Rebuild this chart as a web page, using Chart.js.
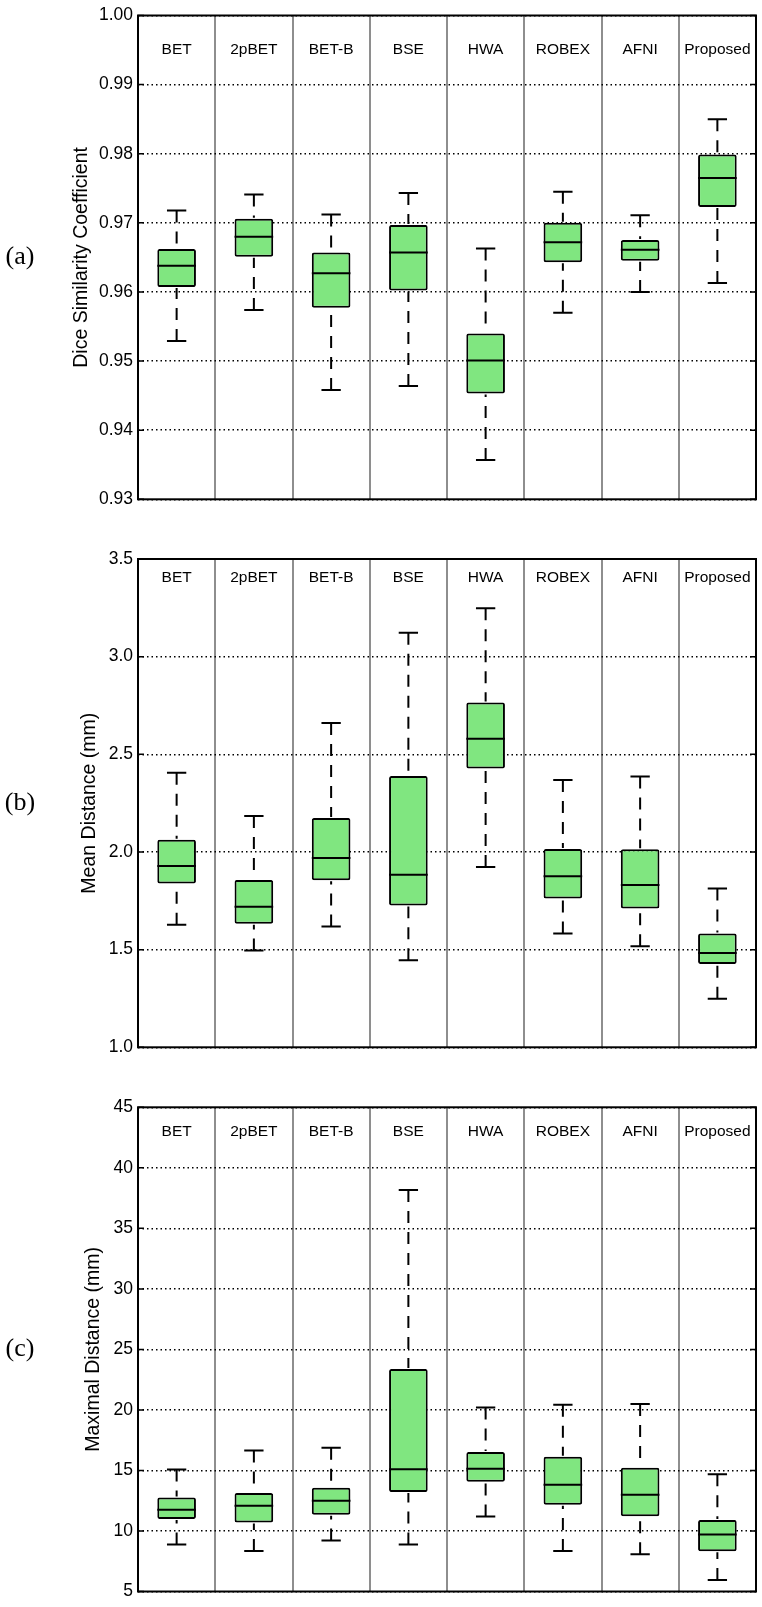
<!DOCTYPE html>
<html>
<head>
<meta charset="utf-8">
<script src="https://cdn.jsdelivr.net/npm/chart.js@4.4.1/dist/chart.umd.min.js"></script>
<style>
    body { margin: 0; background: #fff; }
    #wrap { position: relative; width: 762px; height: 1607px; }
    canvas { position: absolute; left: 0; }
</style>
</head>
<body>
<div id="wrap">
    <canvas id="panelA" width="762" height="520" style="top:0px"></canvas>
    <canvas id="panelB" width="762" height="540" style="top:530px"></canvas>
    <canvas id="panelC" width="762" height="527" style="top:1080px"></canvas>
</div>
<script>
const methods = ['BET', '2pBET', 'BET-B', 'BSE', 'HWA', 'ROBEX', 'AFNI', 'Proposed'];

// (a) Dice similarity coefficient
const dscLow = [0.9529, 0.9574, 0.9458, 0.9464, 0.9357, 0.9570, 0.9600, 0.9613];
const dscQ1 = [0.9607, 0.9651, 0.9577, 0.9602, 0.9453, 0.9643, 0.9645, 0.9723];
const dscMedian = [0.9638, 0.9680, 0.9627, 0.9657, 0.9501, 0.9672, 0.9661, 0.9765];
const dscQ3 = [0.9662, 0.9706, 0.9657, 0.9697, 0.9540, 0.9700, 0.9675, 0.9799];
const dscHigh = [0.9718, 0.9741, 0.9712, 0.9743, 0.9663, 0.9745, 0.9711, 0.9850];

// (b) mean distance (mm)
const meanLow = [1.628, 1.495, 1.618, 1.446, 1.923, 1.582, 1.517, 1.249];
const meanQ1 = [1.838, 1.633, 1.855, 1.726, 2.428, 1.762, 1.710, 1.427];
const meanMedian = [1.928, 1.719, 1.969, 1.884, 2.580, 1.876, 1.831, 1.483];
const meanQ3 = [2.063, 1.857, 2.174, 2.389, 2.765, 2.015, 2.014, 1.582];
const meanHigh = [2.406, 2.184, 2.660, 3.122, 3.248, 2.368, 2.387, 1.813];

// (c) maximal distance (mm)
const maxLow = [8.89, 8.34, 9.22, 8.89, 11.19, 8.34, 8.07, 5.94];
const maxQ1 = [10.99, 10.69, 11.35, 13.21, 14.06, 12.17, 11.21, 8.32];
const maxMedian = [11.76, 12.09, 12.50, 15.10, 15.15, 13.81, 12.99, 9.71];
const maxQ3 = [12.77, 13.13, 13.57, 23.38, 16.52, 16.14, 15.23, 10.91];
const maxHigh = [15.07, 16.65, 16.88, 38.16, 20.21, 20.43, 20.49, 14.69];

const SANS = '"Liberation Sans", Arial, sans-serif';
const SERIF = '"Liberation Serif", "Times New Roman", serif';

// medians, whiskers, frame, inner ticks and labels inside the plot
const boxExtras = {
    id: 'boxExtras',
    afterDatasetsDraw(chart, args, opts) {
        const { ctx } = chart;
        const x = chart.scales.x;
        const y = chart.scales.y;
        const bars = chart.getDatasetMeta(0).data;
        ctx.save();
        ctx.strokeStyle = '#000';
        ctx.lineWidth = 2;
        bars.forEach((bar, i) => {
            const cx = x.getPixelForValue(i);
            const half = bar.width / 2;
            const yMed = y.getPixelForValue(opts.median[i]);
            const yQ1 = y.getPixelForValue(opts.q1[i]);
            const yQ3 = y.getPixelForValue(opts.q3[i]);
            const yLow = y.getPixelForValue(opts.low[i]);
            const yHigh = y.getPixelForValue(opts.high[i]);

            ctx.setLineDash([]);
            ctx.beginPath();
            ctx.moveTo(cx - half, yMed);
            ctx.lineTo(cx + half, yMed);
            ctx.stroke();

            ctx.beginPath();
            ctx.moveTo(cx - half / 2, yHigh);
            ctx.lineTo(cx + half / 2, yHigh);
            ctx.moveTo(cx - half / 2, yLow);
            ctx.lineTo(cx + half / 2, yLow);
            ctx.stroke();

            ctx.setLineDash([12, 9]);
            ctx.beginPath();
            ctx.moveTo(cx, yHigh);
            ctx.lineTo(cx, yQ3 - 1);
            ctx.stroke();
            ctx.beginPath();
            ctx.moveTo(cx, yLow);
            ctx.lineTo(cx, yQ1 + 1);
            ctx.stroke();
        });
        ctx.restore();
    },
    afterDraw(chart, args, opts) {
        const { ctx, chartArea: a } = chart;
        const x = chart.scales.x;
        const y = chart.scales.y;
        ctx.save();
        ctx.strokeStyle = '#000';
        ctx.lineWidth = 1.5;
        y.ticks.forEach((t, i) => {
            const py = y.getPixelForTick(i);
            ctx.beginPath();
            ctx.moveTo(a.left, py);
            ctx.lineTo(a.left + 6, py);
            ctx.moveTo(a.right, py);
            ctx.lineTo(a.right - 6, py);
            ctx.stroke();
        });
        ctx.lineWidth = 2;
        ctx.strokeRect(a.left, a.top, a.right - a.left, a.bottom - a.top);

        ctx.fillStyle = '#000';
        ctx.font = '15.5px ' + SANS;
        ctx.textAlign = 'center';
        ctx.textBaseline = 'middle';
        methods.forEach((m, i) => {
            ctx.fillText(m, x.getPixelForValue(i), a.top + opts.labelOffset);
        });

        ctx.font = '26px ' + SERIF;
        ctx.fillText(opts.panel, 20, (a.top + a.bottom) / 2);
        ctx.restore();
    }
};

function makePanel(canvasId, spec) {
    const canvas = document.getElementById(canvasId);
    return new Chart(canvas.getContext('2d'), {
        type: 'bar',
        data: {
            labels: methods,
            datasets: [{
                data: spec.q1.map((v, i) => [v, spec.q3[i]]),
                backgroundColor: '#80e680',
                borderColor: '#000',
                borderWidth: 2,
                borderSkipped: false,
                borderRadius: 2,
                barPercentage: 0.5,
                categoryPercentage: 1.0
            }]
        },
        options: {
            responsive: false,
            animation: false,
            layout: { padding: { left: 0, right: 6, top: spec.padTop, bottom: spec.padBottom } },
            plugins: {
                legend: { display: false },
                tooltip: { enabled: false },
                boxExtras: {
                    low: spec.low, q1: spec.q1, median: spec.median, q3: spec.q3, high: spec.high,
                    labelOffset: spec.labelOffset, panel: spec.panel
                }
            },
            scales: {
                x: {
                    offset: true,
                    grid: { offset: true, color: '#8e8e8e', lineWidth: 2, drawTicks: false },
                    border: { display: false },
                    ticks: { display: false },
                    afterFit: (scale) => { scale.height = 0; }
                },
                y: {
                    min: spec.min,
                    max: spec.max,
                    z: 1,
                    grid: { color: '#000', lineWidth: 1.4, drawTicks: false },
                    border: { display: false, dash: [1.5, 3] },
                    ticks: {
                        stepSize: spec.step,
                        padding: 5,
                        color: '#000',
                        font: { family: SANS, size: 17.5 },
                        callback: (v) => v.toFixed(spec.decimals)
                    },
                    title: {
                        display: true,
                        text: spec.title,
                        color: '#000',
                        font: { family: SANS, size: 19.5 },
                        padding: { top: spec.titleX - 11.7, bottom: 0 }
                    },
                    afterFit: (scale) => { scale.width = 138; }
                }
            }
        },
        plugins: [boxExtras]
    });
}

makePanel('panelA', {
    low: dscLow, q1: dscQ1, median: dscMedian, q3: dscQ3, high: dscHigh,
    min: 0.93, max: 1.0, step: 0.01, decimals: 2,
    title: 'Dice Similarity Coefficient', titleX: 82,
    padTop: 11, padBottom: 20.7, labelOffset: 34.5, panel: '(a)'
});

makePanel('panelB', {
    low: meanLow, q1: meanQ1, median: meanMedian, q3: meanQ3, high: meanHigh,
    min: 1.0, max: 3.5, step: 0.5, decimals: 1,
    title: 'Mean Distance (mm)', titleX: 90,
    padTop: 29, padBottom: 22.7, labelOffset: 19, panel: '(b)'
});

makePanel('panelC', {
    low: maxLow, q1: maxQ1, median: maxMedian, q3: maxQ3, high: maxHigh,
    min: 5, max: 45, step: 5, decimals: 0,
    title: 'Maximal Distance (mm)', titleX: 94,
    padTop: 27.3, padBottom: 12.3, labelOffset: 24, panel: '(c)'
});
</script>
</body>
</html>
